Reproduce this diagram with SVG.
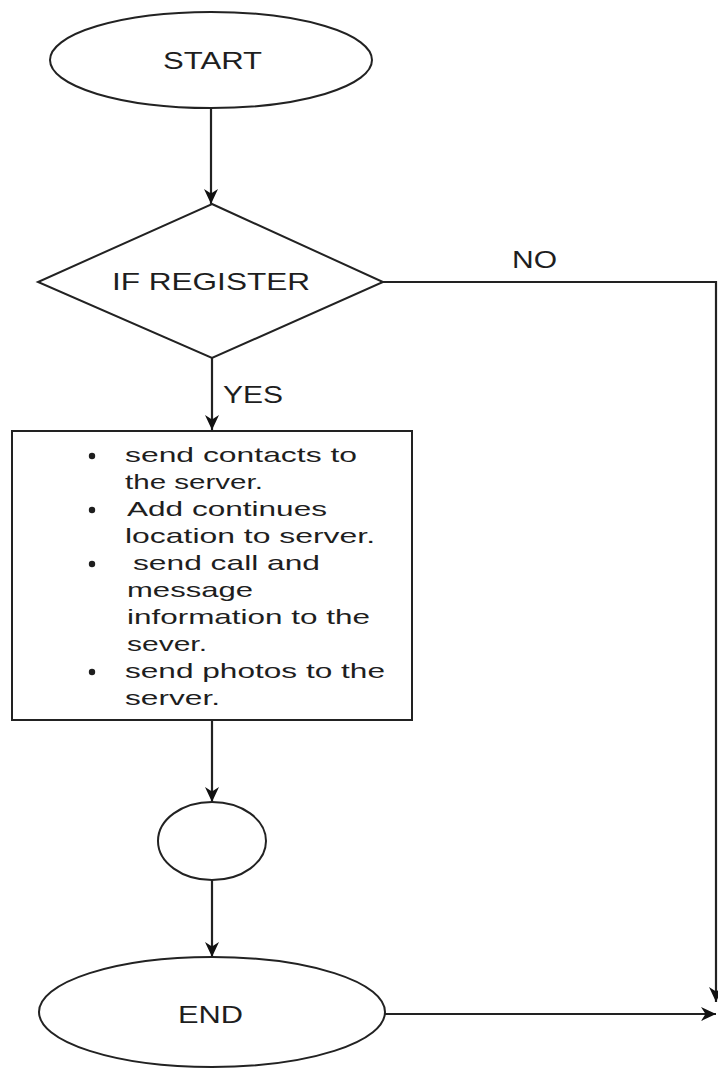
<svg xmlns="http://www.w3.org/2000/svg" width="718" height="1068" viewBox="0 0 718 1068">
<style>
.shape{fill:#fff;stroke:#222;stroke-width:2}
.conn{fill:none;stroke:#222;stroke-width:2.2}
.lbl{font-family:"Liberation Sans",Arial,sans-serif;fill:#1e1e1e;font-size:24px}
.body{font-family:"Liberation Sans",Arial,sans-serif;fill:#1e1e1e;font-size:21px}
</style>
<defs>
<marker id="arr" markerUnits="userSpaceOnUse" markerWidth="16" markerHeight="16" viewBox="0 0 16 16" refX="15" refY="8" orient="auto">
<path d="M0,1 L15,8 L0,15 L4.5,8 z" fill="#111"/>
</marker>
</defs>
<rect width="718" height="1068" fill="#fff"/>
<g id="connectors">
<path class="conn" d="M211,108 L211,204" marker-end="url(#arr)"/>
<path class="conn" d="M212,358 L212,430" marker-end="url(#arr)"/>
<path class="conn" d="M212,720 L212,802" marker-end="url(#arr)"/>
<path class="conn" d="M212,880 L212,957" marker-end="url(#arr)"/>
<path class="conn" d="M383,282 L716,282 L716,1002" marker-end="url(#arr)"/>
<path class="conn" d="M385,1014 L716,1014" marker-end="url(#arr)"/>
<text class="lbl" x="223" y="403" font-size="22" textLength="60" lengthAdjust="spacingAndGlyphs">YES</text>
<text class="lbl" x="512" y="268" font-size="22" textLength="45" lengthAdjust="spacingAndGlyphs">NO</text>
</g>
<g id="start">
<ellipse class="shape" cx="211" cy="60" rx="161" ry="48"/>
<text class="lbl" x="163" y="69" textLength="99" lengthAdjust="spacingAndGlyphs">START</text>
</g>
<g id="if-register">
<polygon class="shape" points="212,204 383,282 212,358 38,282"/>
<text class="lbl" x="112" y="290" textLength="198" lengthAdjust="spacingAndGlyphs">IF REGISTER</text>
</g>
<g id="process">
<rect class="shape" x="12" y="431" width="400" height="289"/>
<g fill="#1e1e1e">
<circle cx="92" cy="456" r="3.2"/>
<circle cx="92" cy="510" r="3.2"/>
<circle cx="92" cy="564" r="3.2"/>
<circle cx="92" cy="672" r="3.2"/>
</g>
<text class="body" x="125" y="462" textLength="232" lengthAdjust="spacingAndGlyphs">send contacts to</text>
<text class="body" x="125" y="489" textLength="138" lengthAdjust="spacingAndGlyphs">the server.</text>
<text class="body" x="127" y="516" textLength="200" lengthAdjust="spacingAndGlyphs">Add continues</text>
<text class="body" x="125" y="543" textLength="250" lengthAdjust="spacingAndGlyphs">location to server.</text>
<text class="body" x="133" y="570" textLength="187" lengthAdjust="spacingAndGlyphs">send call and</text>
<text class="body" x="127" y="597" textLength="126" lengthAdjust="spacingAndGlyphs">message</text>
<text class="body" x="127" y="624" textLength="243" lengthAdjust="spacingAndGlyphs">information to the</text>
<text class="body" x="127" y="651" textLength="80" lengthAdjust="spacingAndGlyphs">sever.</text>
<text class="body" x="125" y="678" textLength="260" lengthAdjust="spacingAndGlyphs">send photos to the</text>
<text class="body" x="125" y="705" textLength="95" lengthAdjust="spacingAndGlyphs">server.</text>
</g>
<g id="connector-node">
<ellipse class="shape" cx="212" cy="841" rx="54" ry="39"/>
</g>
<g id="end">
<ellipse class="shape" cx="212" cy="1012" rx="173" ry="55"/>
<text class="lbl" x="178" y="1023" textLength="65" lengthAdjust="spacingAndGlyphs">END</text>
</g>
</svg>
